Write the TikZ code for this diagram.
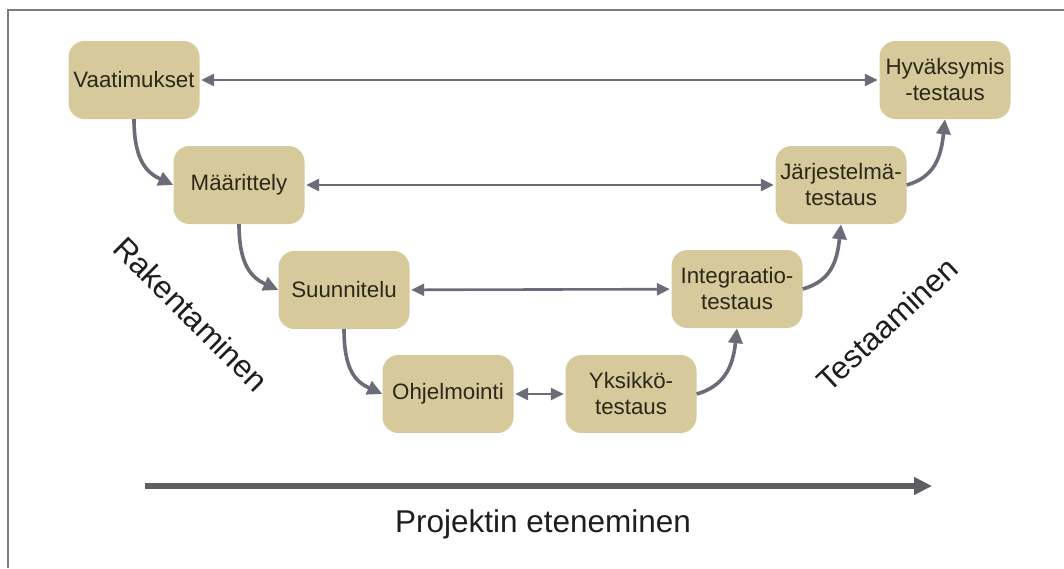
\documentclass[tikz,border=0pt]{standalone}
\usepackage{fontspec}
\setmainfont{Liberation Sans}
\usetikzlibrary{arrows.meta}
\definecolor{boxfill}{HTML}{D6CA9C}
\definecolor{boxtext}{HTML}{2C2818}
\definecolor{arrgray}{HTML}{6B6C78}
\definecolor{bigarr}{HTML}{5E5E62}
\definecolor{framecol}{HTML}{7C7C7C}
\definecolor{labtext}{HTML}{1E1E1E}
\tikzset{
  box/.style={fill=boxfill, rounded corners=16pt, minimum width=131pt, minimum height=78pt,
    align=center, inner sep=0pt, text=boxtext, font=\fontsize{22.3}{26}\selectfont},
  harrow/.style={draw=arrgray, line width=2.6pt, {Triangle[length=13pt,width=12pt]}-{Triangle[length=13pt,width=12pt]},
    shorten <=1.5pt, shorten >=1.5pt},
  carrow/.style={draw=arrgray, line width=3.6pt, -{Triangle[length=15pt,width=14pt]}},
  bigarrow/.style={draw=bigarr, line width=5.5pt, -{Triangle[length=18pt,width=17pt]}},
  biglabel/.style={text=labtext, font=\fontsize{31.5}{36}\selectfont, inner sep=0pt}
}
\begin{document}
\begin{tikzpicture}[x=1pt,y=1pt]
\useasboundingbox (0,0) rectangle (1064,-568);
\fill[white] (0,0) rectangle (1064,-568);
\coordinate (f1) at (8,-568);
\coordinate (f2) at (8,-10);
\coordinate (f3) at (1064,-10);
\draw[framecol, line width=2.2pt] (f1) -- (f2) -- (f3);

\node[box] (V) at (134,-80) {Vaatimukset};
\node[box] (M) at (239,-185) {Määrittely};
\node[box] (S) at (344,-290) {Suunnitelu};
\node[box] (O) at (448,-394) {Ohjelmointi};
\node[box] (Y) at (631,-394) {Yksikkö-\\testaus};
\node[box] (I) at (737,-289) {Integraatio-\\testaus};
\node[box] (J) at (841,-185) {Järjestelmä-\\testaus};
\node[box] (H) at (945,-80) {Hyväksymis\\-testaus};

\draw[harrow] (V) -- (H);
\draw[harrow] (M) -- (J);
\draw[harrow] (S) -- (I);
\draw[harrow] (O) -- (Y);

\draw[carrow] (V.south) .. controls +(0,-42) and +(-26,12) .. (M.west);
\draw[carrow] (M.south) .. controls +(0,-42) and +(-26,12) .. (S.west);
\draw[carrow] (S.south) .. controls +(0,-42) and +(-26,12) .. (O.west);
\draw[carrow] (Y.east) .. controls +(28,8) and +(-4,-38) .. (I.south);
\draw[carrow] (I.east) .. controls +(28,8) and +(-4,-38) .. (J.south);
\draw[carrow] (J.east) .. controls +(28,8) and +(-4,-38) .. (H.south);

\node[biglabel, rotate=-45] (rak) at (191,-314) {Rakentaminen};
\node[biglabel, rotate=43] (tes) at (887,-324) {Testaaminen};

\coordinate (ps) at (145,-486);
\coordinate (pe) at (932,-486);
\draw[bigarrow] (ps) -- (pe);
\node[biglabel, anchor=base] (proj) at (543,-532) {Projektin eteneminen};
\end{tikzpicture}
\end{document}
